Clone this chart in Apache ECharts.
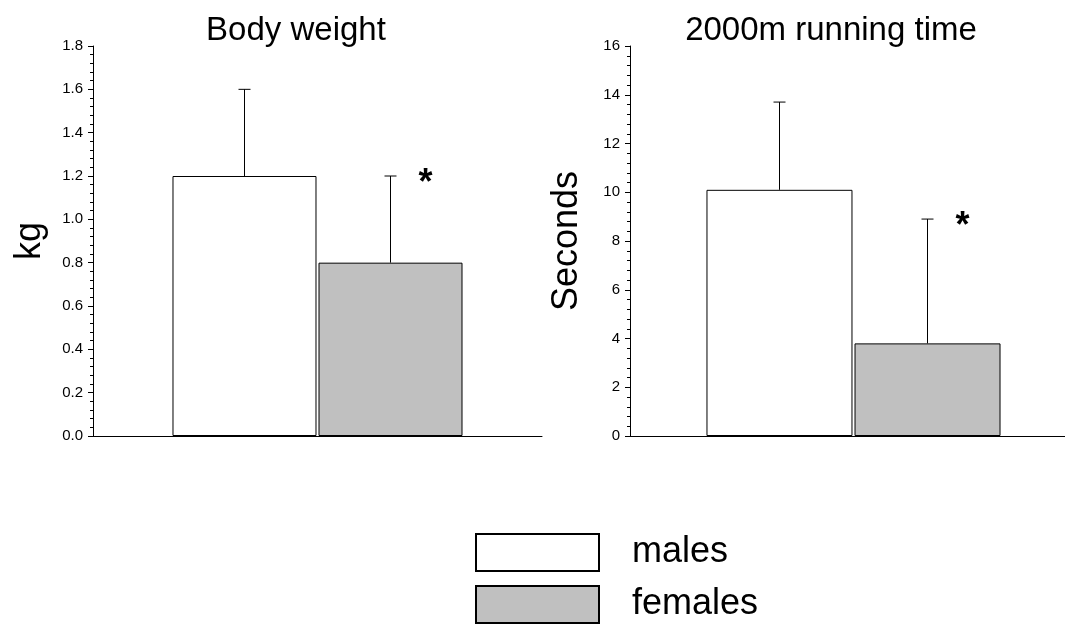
<!DOCTYPE html>
<html>
<head>
<meta charset="utf-8">
<script src="https://cdn.jsdelivr.net/npm/echarts@6/dist/echarts.min.js"></script>
<style>
html,body{margin:0;padding:0;background:#fff;}
#chart{width:1065px;height:629px;}
</style>
</head>
<body>
<div id="chart"></div>
<script>
// ---- data ----
const panelTitles = ['Body weight', '2000m running time'];
const yAxisNames = ['kg', 'Seconds'];
const yMax = [1.8, 16];
const yInterval = [0.2, 2];
const yDecimals = [1, 0];
const seriesNames = ['males', 'females'];
const malesMean = [1.2, 10.1];
const malesErr = [0.4, 3.6];
const femalesMean = [0.8, 3.8];
const femalesErr = [0.4, 5.1];
const femalesSignificant = [true, true];
const malesSignificant = [false, false];

// ---- layout / style ----
const FONT = '"Liberation Sans", Arial, Helvetica, sans-serif';
const grids = [
  {left: 93, top: 46, width: 449, height: 390},
  {left: 630, top: 46, width: 447, height: 390}
];
const barWidths = [144, 146];
const barGapsPx = [2, 2];
const titleCenters = [291, 826];
const legendTops = [533, 585];

const chart = echarts.init(document.getElementById('chart'), null, {renderer: 'canvas'});

const option = {
  backgroundColor: '#fff',
  animation: false,
  textStyle: {fontFamily: FONT, color: '#000'},
  title: panelTitles.map((t, i) => ({
    text: t,
    left: titleCenters[i],
    top: 9,
    textAlign: 'center',
    textStyle: {fontFamily: FONT, fontSize: 33, fontWeight: 'normal', color: '#000'}
  })),
  legend: seriesNames.map((n, i) => ({
    data: [n],
    orient: 'vertical',
    left: 475,
    top: legendTops[i],
    padding: 0,
    itemWidth: 123,
    itemHeight: 37,
    icon: 'rect',
    selectedMode: false,
    textStyle: {fontFamily: FONT, fontSize: 36, color: '#000', padding: [0, 0, 0, 28], lineHeight: 37}
  })),
  grid: grids.map(g => Object.assign({containLabel: false, outerBoundsMode: 'none'}, g)),
  xAxis: grids.map((g, i) => ({
    type: 'category',
    gridIndex: i,
    data: [panelTitles[i]],
    axisLine: {show: true, lineStyle: {color: '#000', width: 1}},
    axisTick: {show: false},
    axisLabel: {show: false},
    splitLine: {show: false}
  })),
  yAxis: grids.map((g, i) => ({
    type: 'value',
    gridIndex: i,
    min: 0,
    max: yMax[i],
    interval: yInterval[i],
    name: yAxisNames[i],
    nameLocation: 'middle',
    nameRotate: 90,
    nameGap: 45,
    nameTextStyle: {fontFamily: FONT, fontSize: 36, color: '#000'},
    axisLine: {show: true, lineStyle: {color: '#000', width: 1}},
    axisTick: {show: true, inside: false, length: 5, lineStyle: {color: '#000'}},
    minorTick: {show: true, splitNumber: 5, length: 3, lineStyle: {color: '#000'}},
    splitLine: {show: false},
    minorSplitLine: {show: false},
    axisLabel: {
      fontFamily: FONT, fontSize: 15, color: '#000', margin: 10,
      formatter: v => Number(v).toFixed(yDecimals[i])
    }
  })),
  series: []
};

function errRender(panel) {
  return function (params, api) {
    const sign = api.value(1);
    const mean = api.value(2);
    const err = api.value(3);
    const sig = api.value(4);
    const base = api.coord([0, mean]);
    const top = api.coord([0, mean + err]);
    const x = base[0] + sign * (barWidths[panel] + barGapsPx[panel]) / 2;
    const children = [
      {type: 'line', shape: {x1: x, y1: base[1], x2: x, y2: top[1]}, style: {stroke: '#000', lineWidth: 1}},
      {type: 'line', shape: {x1: x - 6, y1: top[1], x2: x + 6, y2: top[1]}, style: {stroke: '#000', lineWidth: 1}}
    ];
    if (sig) {
      children.push({
        type: 'text',
        style: {
          text: '*', x: x + 35, y: top[1] + 8,
          align: 'center', verticalAlign: 'middle',
          font: 'bold 36px ' + FONT, fill: '#000'
        }
      });
    }
    return {type: 'group', children: children};
  };
}

for (let i = 0; i < 2; i++) {
  option.series.push({
    name: seriesNames[0], type: 'bar', xAxisIndex: i, yAxisIndex: i,
    data: [malesMean[i]],
    barWidth: barWidths[i], barGap: (barGapsPx[i] / barWidths[i] * 100).toFixed(1) + '%',
    itemStyle: {color: '#ffffff', borderColor: '#000', borderWidth: 1},
    z: 2
  });
  option.series.push({
    name: seriesNames[1], type: 'bar', xAxisIndex: i, yAxisIndex: i,
    data: [femalesMean[i]],
    barWidth: barWidths[i],
    itemStyle: {color: '#c0c0c0', borderColor: '#000', borderWidth: 1},
    z: 2
  });
  option.series.push({
    type: 'custom', xAxisIndex: i, yAxisIndex: i,
    renderItem: errRender(i),
    data: [
      [0, -1, malesMean[i], malesErr[i], malesSignificant[i] ? 1 : 0],
      [0, 1, femalesMean[i], femalesErr[i], femalesSignificant[i] ? 1 : 0]
    ],
    z: 3,
    silent: true
  });
}

chart.setOption(option);
</script>
</body>
</html>
